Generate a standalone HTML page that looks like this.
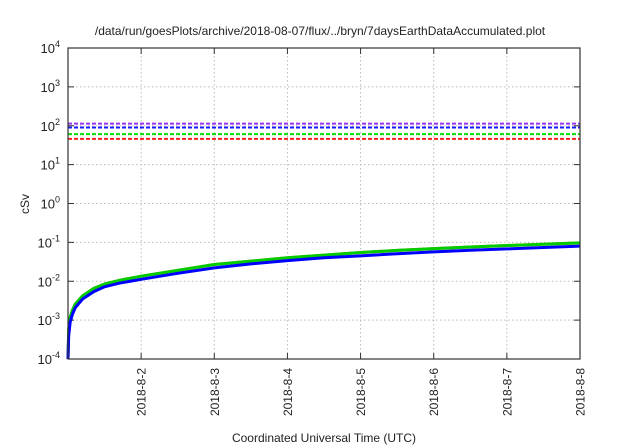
<!DOCTYPE html>
<html><head><meta charset="utf-8"><style>
body{margin:0;background:#fff;}
svg{display:block;font-family:"Liberation Sans",sans-serif;}
</style></head><body>
<svg id="c" width="640" height="448"></svg>
<script>
const xTicks=[2,3,4,5,6,7,8];
const xTickLabels=["2018-8-2","2018-8-3","2018-8-4","2018-8-5","2018-8-6","2018-8-7","2018-8-8"];
const yTicks=[-4,-3,-2,-1,0,1,2,3,4];
const refNames=["purple-limit","blue-limit","green-limit","red-limit"];
const refValues=[113,90,61,46];
const refColors=["#9933ee","#1a1aff","#00dd00","#ff2020"];
const days=[1.0,1.01,1.03,1.06,1.1,1.2,1.35,1.5,1.7,2,2.5,3,3.5,4,4.5,5,5.5,6,6.5,7,7.5,8];
const greenVals=[0.0001,0.0006,0.0012,0.0018,0.0026,0.0042,0.0065,0.0085,0.0105,0.0135,0.019,0.027,0.033,0.040,0.047,0.055,0.062,0.069,0.076,0.083,0.090,0.097];
const blueVals=[0.0001,0.0004,0.0009,0.0014,0.0021,0.0035,0.0054,0.0072,0.0089,0.0112,0.016,0.022,0.028,0.034,0.040,0.045,0.051,0.057,0.063,0.068,0.074,0.080];
const L=68,R=580,T=48,B=359;
const X=d=>L+(d-1)/(8-1)*(R-L);
const Y=e=>B-(e+4)/8*(B-T);
const Yv=v=>Y(Math.log10(v));
const svg=document.getElementById('c');
const NS="http://www.w3.org/2000/svg";
function mk(t,a,txt){const e=document.createElementNS(NS,t);for(const k in a)e.setAttribute(k,a[k]);if(txt!==undefined)e.textContent=txt;svg.appendChild(e);return e;}
let e;
e=mk('text',{x:320,y:35,'text-anchor':'middle','font-size':12,fill:'#222'},'/data/run/goesPlots/archive/2018-08-07/flux/../bryn/7daysEarthDataAccumulated.plot');

yTicks.forEach(t=>{const y=Y(t);
 if(t>-4&&t<4){e=mk('line',{x1:L,x2:R,y1:y,y2:y,stroke:'#bbb','stroke-dasharray':'1.5,2.5','stroke-width':1});}
 mk('line',{x1:L,x2:L+6,y1:y,y2:y,stroke:'#333'});mk('line',{x1:R-6,x2:R,y1:y,y2:y,stroke:'#333'});
 e=mk('text',{x:L-8,y:y+5,'text-anchor':'end','font-size':13,fill:'#222'});
 
 const a=document.createElementNS(NS,'tspan');a.textContent='10';e.appendChild(a);
 const b=document.createElementNS(NS,'tspan');b.setAttribute('dy','-6');b.setAttribute('font-size','9');b.textContent=String(t);e.appendChild(b);
});
xTicks.forEach((t,i)=>{const x=X(t);
 if(t<8){e=mk('line',{x1:x,x2:x,y1:T,y2:B,stroke:'#bbb','stroke-dasharray':'1.5,2.5','stroke-width':1});}
 mk('line',{x1:x,x2:x,y1:B,y2:B-6,stroke:'#333'});mk('line',{x1:x,x2:x,y1:T,y2:T+6,stroke:'#333'});
 e=mk('text',{x:0,y:0,transform:`translate(${x+4.5},368) rotate(-90)`,'text-anchor':'end','font-size':12,fill:'#222'},xTickLabels[i]);
 
});
refValues.forEach((v,i)=>{const y=Yv(v);
 e=mk('line',{x1:L,x2:R,y1:y,y2:y,stroke:refColors[i],'stroke-width':2,'stroke-dasharray':'4,2'});
 });
function series(vals,col,name,w){const d=days.map((t,i)=>(i?'L':'M')+X(t).toFixed(1)+','+Yv(vals[i]).toFixed(1)).join('');
 e=mk('path',{d:d,fill:'none',stroke:col,'stroke-width':w,'stroke-linejoin':'round'});
 }
series(greenVals,'#d08040','red-accumulated',3);
series(greenVals,'#00cc00','green-accumulated',3);
series(blueVals,'#0000ff','blue-accumulated',3);
e=mk('rect',{x:L,y:T,width:R-L,height:B-T,fill:'none',stroke:'#333','stroke-width':1.2});

e=mk('text',{x:0,y:0,transform:'translate(29,204) rotate(-90)','text-anchor':'middle','font-size':12,fill:'#222'},'cSv');

e=mk('text',{x:324,y:442,'text-anchor':'middle','font-size':12,fill:'#222'},'Coordinated Universal Time (UTC)');

</script>
</body></html>
